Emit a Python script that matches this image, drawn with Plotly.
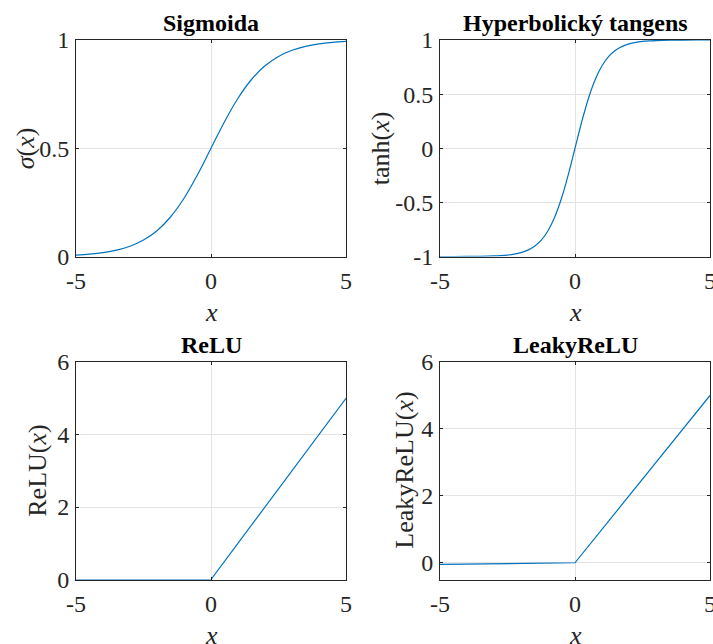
import plotly.graph_objects as go

# ---- data ----
x_sig = [-5, -4.5, -4, -3.5, -3, -2.5, -2, -1.5, -1, -0.5, 0, 0.5, 1, 1.5, 2, 2.5, 3, 3.5, 4, 4.5, 5]
y_sig = [0.0067, 0.0110, 0.0180, 0.0293, 0.0474, 0.0759, 0.1192, 0.1824, 0.2689, 0.3775, 0.5,
         0.6225, 0.7311, 0.8176, 0.8808, 0.9241, 0.9526, 0.9707, 0.9820, 0.9890, 0.9933]

x_tanh = [-5, -4.5, -4, -3.5, -3, -2.75, -2.5, -2.25, -2, -1.75, -1.5, -1.25, -1, -0.75, -0.5, -0.25, 0,
          0.25, 0.5, 0.75, 1, 1.25, 1.5, 1.75, 2, 2.25, 2.5, 2.75, 3, 3.5, 4, 4.5, 5]
y_tanh = [-0.9999, -0.9998, -0.9993, -0.9982, -0.9951, -0.9918, -0.9866, -0.9780, -0.9640, -0.9414,
          -0.9051, -0.8483, -0.7616, -0.6351, -0.4621, -0.2449, 0.0,
          0.2449, 0.4621, 0.6351, 0.7616, 0.8483, 0.9051, 0.9414, 0.9640, 0.9780, 0.9866, 0.9918,
          0.9951, 0.9982, 0.9993, 0.9998, 0.9999]

x_relu = [-5, 0, 5]
y_relu = [0, 0, 5]

x_leaky = [-5, 0, 5]
y_leaky = [-0.05, 0, 5]

titles = ["Sigmoida", "Hyperbolický tangens", "ReLU", "LeakyReLU"]
ylabels = ["<i>σ</i>(<i>x</i>)", "tanh(<i>x</i>)", "ReLU(<i>x</i>)", "LeakyReLU(<i>x</i>)"]
xlabel = "<i>x</i>"

x_ticks = [-5, 0, 5]
x_ticktext = ["-5", "0", "5"]
y_ticks = [[0, 0.5, 1], [-1, -0.5, 0, 0.5, 1], [0, 2, 4, 6], [0, 2, 4, 6]]
y_ticktext = [["0", "0.5", "1"], ["-1", "-0.5", "0", "0.5", "1"], ["0", "2", "4", "6"], ["0", "2", "4", "6"]]
y_ranges = [[0, 1], [-1, 1], [0, 6], [-0.5, 6]]

# ---- layout geometry (pixels) ----
W, H = 713, 644
cols = [(76, 346), (440, 710)]
rows = [(40, 256.5), (362, 579.5)]
ylab_x = [25, 380, 38, 405]

FONT = "Liberation Serif"
LINE = "#0072BD"
AX = "#262626"
GRID = "#e3e3e3"

fig = go.Figure()
series = [(x_sig, y_sig), (x_tanh, y_tanh), (x_relu, y_relu), (x_leaky, y_leaky)]

annotations = []
for i, (xs, ys) in enumerate(series):
    r, c = divmod(i, 2)
    n = "" if i == 0 else str(i + 1)
    fig.add_trace(go.Scatter(x=xs, y=ys, mode="lines",
                             line=dict(color=LINE, width=1.2,
                                       shape="spline" if i < 2 else "linear"),
                             xaxis="x" + n, yaxis="y" + n, showlegend=False,
                             hoverinfo="skip"))
    x0, x1 = cols[c]
    y0, y1 = rows[r]
    common = dict(showline=True, linecolor=AX, linewidth=1, mirror="ticks",
                  ticks="inside", ticklen=3, tickcolor=AX, automargin=False,
                  ticklabeloverflow="allow",
                  showgrid=True, gridcolor=GRID, gridwidth=1, zeroline=False,
                  tickfont=dict(family=FONT, size=24, color=AX))
    fig.layout["xaxis" + n] = dict(domain=[x0 / W, x1 / W], range=[-5, 5],
                                   anchor="y" + n, tickvals=x_ticks, ticktext=x_ticktext,
                                   ticklabelstandoff=3, **common)
    fig.layout["yaxis" + n] = dict(domain=[1 - y1 / H, 1 - y0 / H], range=y_ranges[i],
                                   anchor="x" + n, tickvals=y_ticks[i], ticktext=y_ticktext[i],
                                   ticklabelstandoff=1, **common)
    # title
    annotations.append(dict(text="<b>" + titles[i] + "</b>", x=(x0 + x1) / 2 / W,
                            y=1 - (y0 - 17) / H, xref="paper", yref="paper",
                            xanchor="center", yanchor="middle", showarrow=False,
                            font=dict(family=FONT, size=24, color="black")))
    # x label
    annotations.append(dict(text=xlabel, x=(x0 + x1) / 2 / W, y=1 - (y1 + 56) / H,
                            xref="paper", yref="paper", xanchor="center", yanchor="middle",
                            showarrow=False, font=dict(family=FONT, size=26, color=AX)))
    # y label
    annotations.append(dict(text=ylabels[i], x=ylab_x[i] / W, y=1 - (y0 + y1) / 2 / H,
                            xref="paper", yref="paper", xanchor="center", yanchor="middle",
                            textangle=-90, showarrow=False,
                            font=dict(family=FONT, size=26, color=AX)))

fig.update_layout(width=W, height=H, margin=dict(l=0, r=0, t=0, b=0),
                  paper_bgcolor="white", plot_bgcolor="white",
                  annotations=annotations)

fig.write_html("out.html", config={"displayModeBar": False},
               post_script="document.body.style.margin='0';document.body.style.overflow='hidden';")
